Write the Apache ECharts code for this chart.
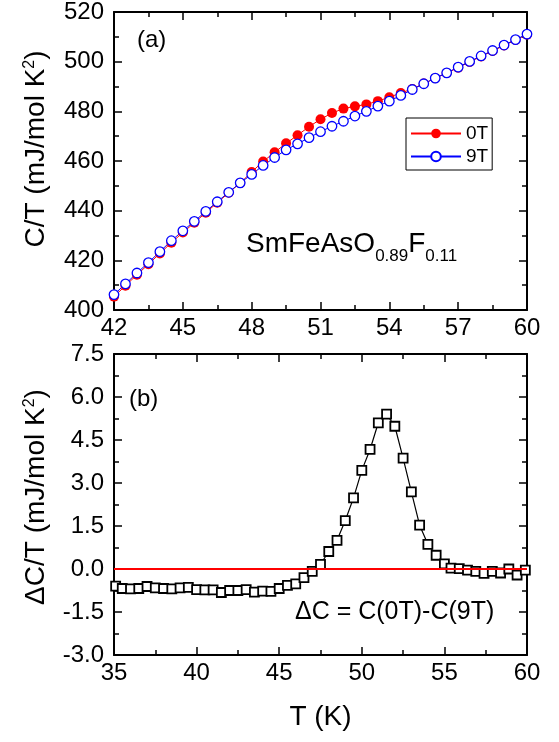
<!DOCTYPE html>
<html>
<head>
<meta charset="utf-8">
<script src="https://cdn.jsdelivr.net/npm/echarts@6/dist/echarts.min.js"></script>
<style>
html,body{margin:0;padding:0;background:#fff;}
#chart{width:559px;height:742px;}
</style>
</head>
<body>
<div id="chart"></div>
<script>
// ---- Data ----
const T_top = [42,42.5,43,43.5,44,44.5,45,45.5,46,46.5,47,47.5,48,48.5,49,49.5,50,50.5,51,51.5,52,52.5,53,53.5,54,54.5,55,55.5,56,56.5,57,57.5,58,58.5,59,59.5,60];
const C_0T = [405.4,409.8,414.2,418.4,422.8,427.1,431.2,435.1,439.2,443.2,447.2,451.1,455.6,459.8,463.5,467.1,470.4,473.8,476.8,479.3,481.1,482.0,482.8,484.1,485.7,487.4,489.0,491.2,493.3,495.4,497.6,499.9,502.1,504.3,506.5,508.7,510.9];
const C_9T = [406.2,410.5,414.9,419.1,423.5,427.9,431.9,435.7,439.7,443.6,447.4,451.2,454.6,458.2,461.4,464.5,466.9,469.4,471.8,474.0,476.0,478.1,480.0,482.1,484.1,486.4,488.8,491.1,493.4,495.5,497.8,500.1,502.3,504.5,506.7,508.9,511.1];

const T_bot = [35.1,35.5,36,36.5,37,37.5,38,38.5,39,39.5,40,40.5,41,41.5,42,42.5,43,43.5,44,44.5,45,45.5,46,46.5,47,47.5,48,48.5,49,49.5,50,50.5,51,51.5,52,52.5,53,53.5,54,54.5,55,55.4,55.9,56.4,56.9,57.4,57.9,58.4,58.9,59.4,59.9];
const dC = [-0.60,-0.68,-0.69,-0.68,-0.61,-0.66,-0.68,-0.69,-0.66,-0.64,-0.72,-0.73,-0.73,-0.82,-0.75,-0.75,-0.72,-0.81,-0.77,-0.78,-0.68,-0.57,-0.52,-0.30,-0.08,0.16,0.61,1.00,1.69,2.48,3.44,4.17,5.10,5.40,4.98,3.87,2.69,1.53,0.86,0.48,0.18,0.03,0.01,-0.04,-0.08,-0.15,-0.08,-0.14,0.00,-0.21,-0.04];

const seriesNames = ['0T','9T'];
const topYLabel = '{a|C/T (mJ/mol K}{s|2}{a|)}';
const botYLabel = '{a|\u0394C/T (mJ/mol K}{s|2}{a|)}';
const xLabel = 'T (K)';
const formulaText = '{m|SmFeAsO}{s|0.89}{m|F}{s|0.11}';
const panelA = '(a)';
const panelB = '(b)';
const diffText = '\u0394C = C(0T)-C(9T)';

// ---- Styling ----
const FONT = 'Liberation Sans, Arial, Helvetica, sans-serif';
const axisLine = {show:true, onZero:false, lineStyle:{color:'#000', width:2}};
const tick = {show:true, inside:true, length:8, lineStyle:{color:'#000', width:1.5}};
const minor = {show:true, splitNumber:2, length:5, lineStyle:{color:'#000', width:1.5}};
const labelStyle = {color:'#000', fontSize:24, fontFamily:FONT};
const nameRich = {
  a:{fontSize:28, fontFamily:FONT, color:'#000', lineHeight:28, verticalAlign:'bottom', padding:[10,0,0,0]},
  s:{fontSize:16, fontFamily:FONT, color:'#000', lineHeight:16, verticalAlign:'top'}
};

function xAx(gi, pos, min, max, interval, showLabel, extra){
  return Object.assign({
    type:'value', gridIndex:gi, position:pos, min:min, max:max, interval:interval,
    axisLine:axisLine, axisTick:tick, minorTick:minor,
    splitLine:{show:false}, minorSplitLine:{show:false},
    axisLabel:Object.assign({show:showLabel, margin:6}, labelStyle)
  }, extra||{});
}
function yAx(gi, pos, min, max, interval, showLabel, fmt, extra){
  return Object.assign({
    type:'value', gridIndex:gi, position:pos, min:min, max:max, interval:interval,
    axisLine:axisLine, axisTick:tick, minorTick:minor,
    splitLine:{show:false}, minorSplitLine:{show:false},
    axisLabel:Object.assign({show:showLabel, margin:10, formatter:fmt}, labelStyle)
  }, extra||{});
}

const chart = echarts.init(document.getElementById('chart'), null, {renderer:'canvas'});
const option = {
  animation:false,
  backgroundColor:'#fff',
  grid:[
    {left:114, right:32, top:9, height:301},
    {left:114, right:32, top:354, height:301}
  ],
  xAxis:[
    xAx(0,'bottom',42,60,3,true),
    xAx(0,'top',42,60,3,false),
    xAx(1,'bottom',35,60,5,true,{name:xLabel, nameLocation:'middle', nameGap:48,
      nameTextStyle:{fontSize:28, fontFamily:FONT, color:'#000'}}),
    xAx(1,'top',35,60,5,false)
  ],
  yAxis:[
    yAx(0,'left',400,520,20,true,null,{name:topYLabel, nameLocation:'middle', nameRotate:90, nameGap:64,
      nameTextStyle:{rich:nameRich, padding:[0,0,0,24]}}),
    yAx(0,'right',400,520,20,false),
    yAx(1,'left',-3,7.5,1.5,true,function(v){return v.toFixed(1);},{name:botYLabel, nameLocation:'middle', nameRotate:90, nameGap:64,
      nameTextStyle:{rich:nameRich, padding:[0,0,0,15]}}),
    yAx(1,'right',-3,7.5,1.5,false)
  ],
  legend:{
    data:seriesNames,
    orient:'vertical', left:406, top:118,
    itemWidth:50, itemHeight:12, itemGap:4,
    padding:[6,4,4,4],
    borderColor:'#000', borderWidth:1, borderRadius:0,
    backgroundColor:'#fff',
    textStyle:{fontSize:19, fontFamily:FONT, color:'#000'}
  },
  series:[
    {
      name:seriesNames[0], type:'line', xAxisIndex:0, yAxisIndex:0,
      data:T_top.map((t,i)=>[t,C_0T[i]]),
      symbol:'circle', symbolSize:10,
      lineStyle:{color:'#ff0000', width:1},
      itemStyle:{color:'#ff0000', borderColor:'#ff0000', borderWidth:0}
    },
    {
      name:seriesNames[1], type:'line', xAxisIndex:0, yAxisIndex:0,
      data:T_top.map((t,i)=>[t,C_9T[i]]),
      symbol:'circle', symbolSize:9.5,
      lineStyle:{color:'#0000ff', width:1},
      itemStyle:{color:'#ffffff', borderColor:'#0000ff', borderWidth:1.3}
    },
    {
      name:'dC', type:'line', xAxisIndex:2, yAxisIndex:2,
      data:T_bot.map((t,i)=>[t,dC[i]]),
      symbol:'rect', symbolSize:9,
      lineStyle:{color:'#000', width:1.2},
      itemStyle:{color:'#ffffff', borderColor:'#000', borderWidth:1.8},
      markLine:{
        silent:true, symbol:'none', animation:false,
        label:{show:false},
        lineStyle:{color:'#ff0000', width:2, type:'solid'},
        data:[{yAxis:0}]
      }
    }
  ],
  graphic:[
    {type:'text', left:137, top:28, style:{text:panelA, fontSize:24, fontFamily:FONT, fill:'#000'}},
    {type:'text', left:129, top:387, style:{text:panelB, fontSize:24, fontFamily:FONT, fill:'#000'}},
    {type:'text', left:295, top:600, style:{text:diffText, fontSize:25, fontFamily:FONT, fill:'#000'}},
    {type:'text', x:246, y:230, style:{
      text:formulaText, verticalAlign:'top', align:'left',
      rich:{
        m:{fontSize:28, fontFamily:FONT, fill:'#000', color:'#000', lineHeight:35, verticalAlign:'top'},
        s:{fontSize:17, fontFamily:FONT, fill:'#000', color:'#000', lineHeight:17, verticalAlign:'bottom'}
      }
    }}
  ]
};
chart.setOption(option);
</script>
</body>
</html>
